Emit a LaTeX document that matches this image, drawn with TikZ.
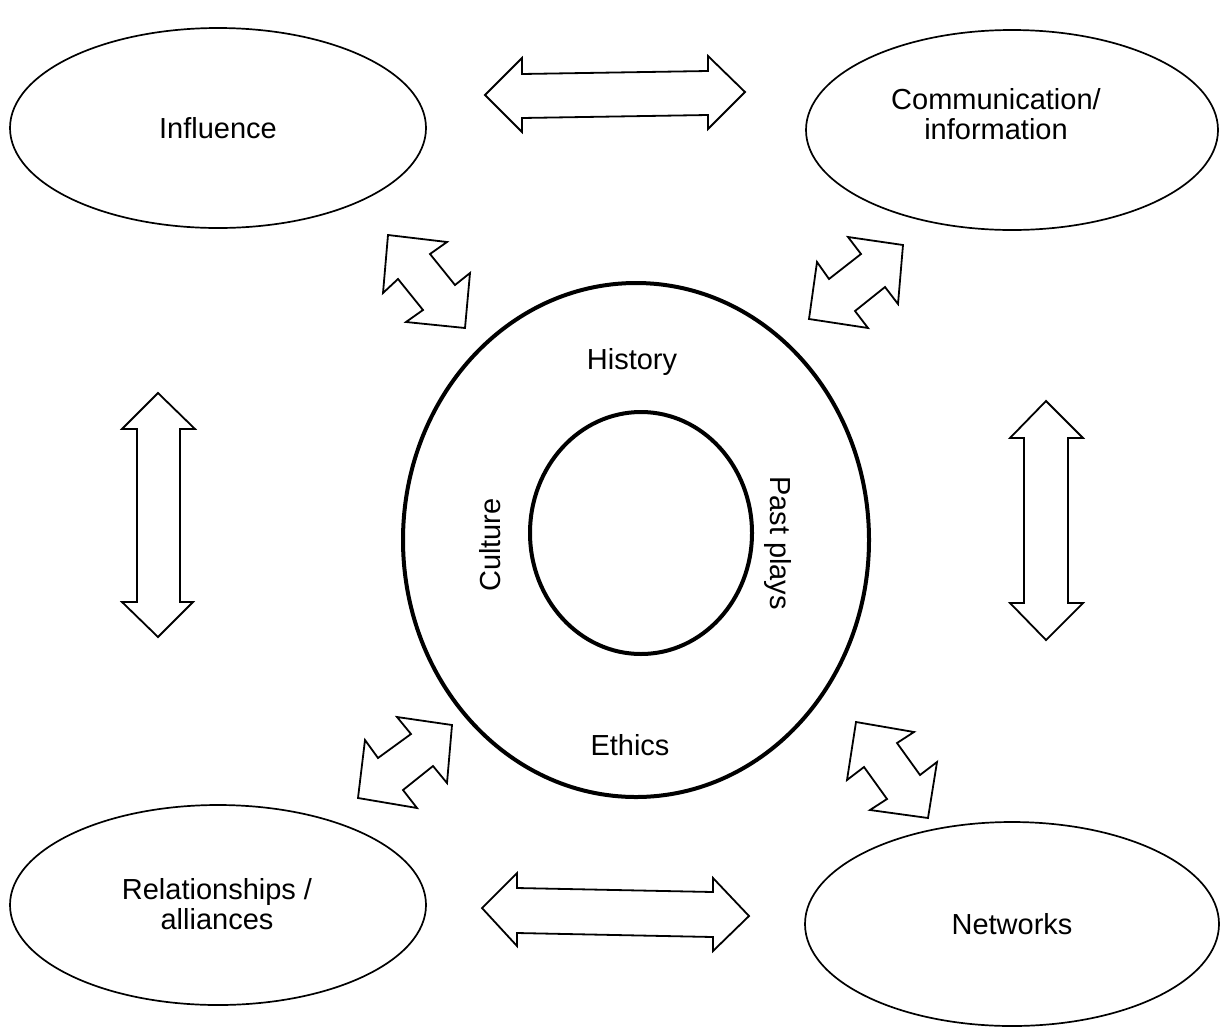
\documentclass[tikz,border=0pt]{standalone}
\usepackage{fontspec}
\setmainfont{Liberation Sans}
\usetikzlibrary{shapes.geometric}
\begin{document}
\begin{tikzpicture}[x=1pt,y=-1pt,
  topic/.style={ellipse,draw,line width=1.7pt,inner sep=0pt,align=center,
    font=\fontsize{29}{30}\selectfont},
  ring/.style={ellipse,draw,line width=4pt,inner sep=0pt},
  label/.style={inner sep=0pt,font=\fontsize{29}{30}\selectfont},
  blockarrow/.style={draw,line width=1.8pt,line join=miter,fill=white}]
\useasboundingbox (0,0) rectangle (1220,1026);

% four outer topics
\node[topic,minimum width=416pt,minimum height=200pt] (infl) at (218,128) {Influence};
\node[topic,minimum width=412pt,minimum height=200pt] (comm) at (1012,130) {};
\node[label,align=center] (commtxt) at (996,114) {Communication/\\information};
\node[topic,minimum width=416pt,minimum height=200pt] (rel) at (218,905) {};
\node[label,align=center] (reltxt) at (217,904) {Relationships /\\alliances};
\node[topic,minimum width=414pt,minimum height=204pt] (net) at (1012,924) {Networks};

% central rings
\node[ring,minimum width=466pt,minimum height=514pt] (outer) at (636,540) {};
\node[ring,minimum width=222pt,minimum height=242pt] (inner) at (641,533) {};
\node[label] (hist) at (632,362) {History};
\node[label] (eth) at (630,745) {Ethics};
\node[label,rotate=90] (cult) at (490,545) {Culture};
\node[label,rotate=-90] (past) at (778,543) {Past plays};

% horizontal double arrows
\draw[blockarrow] (485,95) -- (522,58) -- (522,74) -- (708,71) -- (708,56)
  -- (745,92) -- (708,129) -- (708,115) -- (522,118) -- (522,132) -- cycle;
\draw[blockarrow] (482,908) -- (517,873) -- (517,888) -- (713,892) -- (713,878)
  -- (749,916) -- (713,951) -- (713,937) -- (517,933) -- (517,946) -- cycle;

% vertical double arrows
\draw[blockarrow] (158,393) -- (195,429) -- (180,429) -- (180,602) -- (193,602)
  -- (158,637) -- (122,602) -- (137,602) -- (137,429) -- (122,429) -- cycle;
\draw[blockarrow] (1046,401) -- (1083,438) -- (1068,438) -- (1068,603) -- (1083,603)
  -- (1046,640) -- (1010,603) -- (1024,603) -- (1024,438) -- (1010,438) -- cycle;

% diagonal double arrows
\draw[blockarrow] (388,235) -- (447,242) -- (430,254) -- (455,285) -- (470,273)
  -- (465,328) -- (406,322) -- (423,310) -- (398,279) -- (383,293) -- cycle;
\draw[blockarrow] (903,245) -- (898,304) -- (885,287) -- (855,311) -- (868,328)
  -- (809,319) -- (817,262) -- (829,279) -- (861,254) -- (848,237) -- cycle;
\draw[blockarrow] (452,725) -- (447,783) -- (433,766) -- (403,790) -- (417,808)
  -- (358,798) -- (365,740) -- (378,758) -- (411,734) -- (397,717) -- cycle;
\draw[blockarrow] (856,722) -- (914,732) -- (897,743) -- (920,775) -- (937,762)
  -- (928,818) -- (870,810) -- (887,799) -- (864,767) -- (847,780) -- cycle;
\end{tikzpicture}
\end{document}
